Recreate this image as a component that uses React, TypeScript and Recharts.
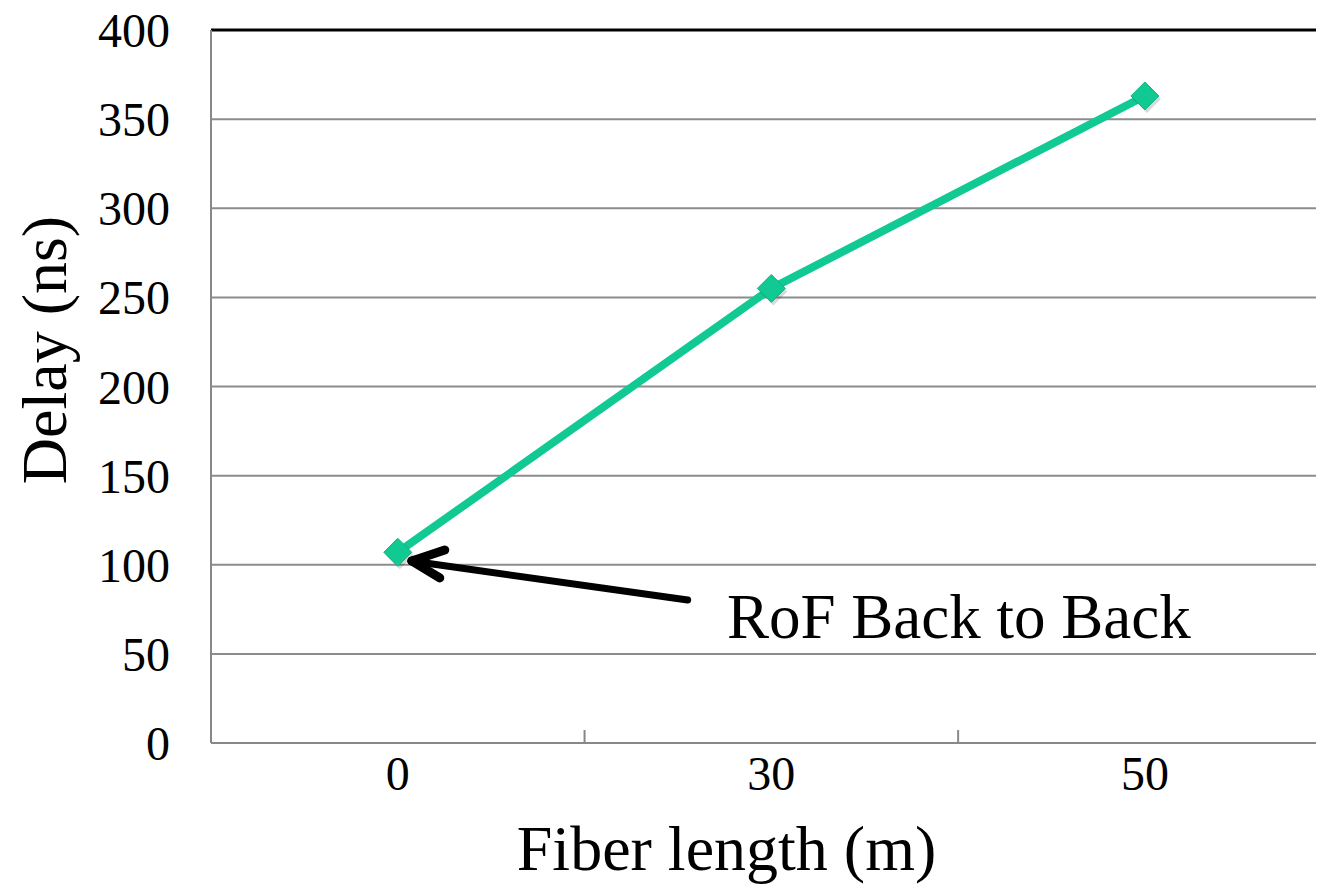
import { LineChart, Line, XAxis, YAxis, CartesianGrid, ReferenceLine } from "recharts";

const FONT = "'Liberation Serif', 'Times New Roman', serif";
const LINE_GREEN = "#10C993";

const fiberLengths = ["0", "30", "50"];
const delays = [107, 255, 363];
const yTicks = [0, 50, 100, 150, 200, 250, 300, 350, 400];
// category boundaries get the small tick marks, category centres get labels
const xTicks = [0, 0.5, 1, 1.5, 2];

const data = fiberLengths.map((f, i) => ({ i, fiber: f, delay: delays[i] }));

function XTick(props: any) {
  const { x, y, payload } = props;
  const v = payload.value as number;
  if (Number.isInteger(v)) {
    return (
      <text x={x} y={y} dy="0.71em" textAnchor="middle" fontFamily={FONT} fontSize={48} fill="#000">
        {fiberLengths[v]}
      </text>
    );
  }
  return <line x1={x} x2={x} y1={y - 13} y2={y - 26} stroke="#888" strokeWidth={2} />;
}

function Diamond(props: any) {
  const { cx, cy } = props;
  if (cx == null || cy == null) return null;
  const r = 14;
  const pts = `${cx},${cy - r} ${cx + r},${cy} ${cx},${cy + r} ${cx - r},${cy}`;
  const shadow = `${cx + 2},${cy - r + 3} ${cx + r + 2},${cy + 3} ${cx + 2},${cy + r + 3} ${cx - r + 2},${cy + 3}`;
  return (
    <g>
      <polygon points={shadow} fill="#000" opacity={0.15} />
      <polygon points={pts} fill={LINE_GREEN} stroke="#0FB483" strokeWidth={1} />
    </g>
  );
}

export default function App() {
  return (
    <div style={{ position: "absolute", left: 0, top: 0, width: 1318, height: 889, background: "#fff" }}>
      <LineChart width={1318} height={889} data={data} margin={{ top: 30, right: 2, left: 0, bottom: 0 }}>
        <CartesianGrid horizontal vertical={false} stroke="#8c8c8c" strokeWidth={2} />
        <XAxis
          dataKey="i"
          type="number"
          domain={[-0.5, 2.458]}
          ticks={xTicks}
          interval={0}
          height={146}
          tickLine={false}
          tickSize={0}
          tickMargin={13}
          axisLine={{ stroke: "#888", strokeWidth: 2 }}
          tick={<XTick />}
          label={{
            value: "Fiber length (m)",
            position: "insideBottom",
            offset: 19,
            dx: -37,
            fontFamily: FONT,
            fontSize: 64,
            fill: "#000",
          }}
        />
        <YAxis
          domain={[0, 400]}
          ticks={yTicks}
          width={211}
          tickLine={false}
          tickSize={0}
          tickMargin={41}
          axisLine={{ stroke: "#888", strokeWidth: 2 }}
          tick={{ fontFamily: FONT, fontSize: 48, fill: "#000" }}
          label={{
            content: () => (
              <text
                x={66}
                y={350}
                transform="rotate(-90 66 350)"
                textAnchor="middle"
                fontFamily={FONT}
                fontSize={64}
                fill="#000"
              >
                Delay (ns)
              </text>
            ),
          }}
        />
        <ReferenceLine y={400} stroke="#000" strokeWidth={3} />
        <Line
          type="linear"
          dataKey="delay"
          stroke={LINE_GREEN}
          strokeWidth={8}
          dot={<Diamond />}
          activeDot={false}
          isAnimationActive={false}
        />
        {/* annotation arrow pointing at the back-to-back point */}
        <ReferenceLine
          segment={[{ x: 0.776, y: 80.2 }, { x: 0.055, y: 101.5 }]}
          stroke="#000"
          strokeWidth={7}
          strokeLinecap="round"
        />
        <ReferenceLine
          segment={[{ x: 0.1258, y: 108.3 }, { x: 0.0375, y: 102.1 }]}
          stroke="#000"
          strokeWidth={9}
          strokeLinecap="round"
        />
        <ReferenceLine
          segment={[{ x: 0.1124, y: 92.6 }, { x: 0.0375, y: 102.1 }]}
          stroke="#000"
          strokeWidth={9}
          strokeLinecap="round"
        />
      </LineChart>
      <svg width={1318} height={889} style={{ position: "absolute", left: 0, top: 0, pointerEvents: "none" }}>
        <text x={727} y={638} fontFamily={FONT} fontSize={63} fill="#000">
          RoF Back to Back
        </text>
      </svg>
    </div>
  );
}
